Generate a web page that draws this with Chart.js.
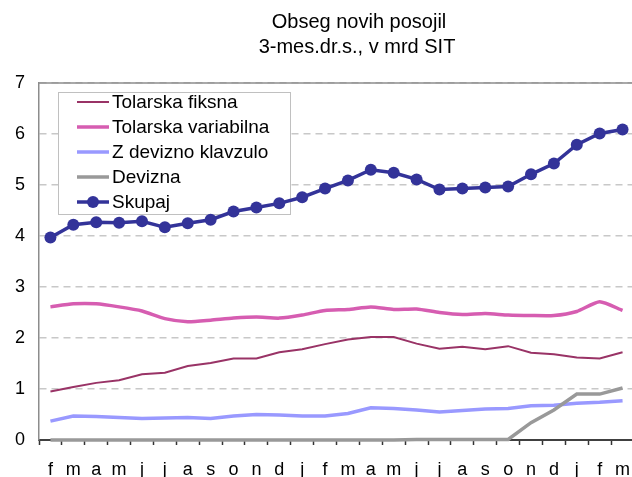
<!DOCTYPE html>
<html>
<head>
<meta charset="utf-8">
<script src="https://cdn.jsdelivr.net/npm/chart.js@4/dist/chart.umd.min.js"></script>
<style>
  body { margin: 0; background: #fff; overflow: hidden; }
  canvas { display: block; }
</style>
</head>
<body>
<canvas id="posojilaChart" width="640" height="477"></canvas>
<script>
// meseci (od februarja do marca naslednje leto +1)
const months = ["f", "m", "a", "m", "j", "j", "a", "s", "o", "n", "d", "j", "f", "m", "a", "m", "j", "j", "a", "s", "o", "n", "d", "j", "f", "m"];

const tolarskaFiksna = [0.95, 1.04, 1.12, 1.17, 1.29, 1.32, 1.45, 1.51, 1.60, 1.60, 1.72, 1.78, 1.88, 1.97, 2.02, 2.02, 1.89, 1.79, 1.83, 1.78, 1.84, 1.71, 1.68, 1.62, 1.60, 1.72];
const tolarskaVariabilna = [2.61, 2.67, 2.67, 2.61, 2.53, 2.38, 2.32, 2.35, 2.39, 2.41, 2.39, 2.45, 2.54, 2.56, 2.61, 2.56, 2.57, 2.50, 2.46, 2.48, 2.45, 2.44, 2.44, 2.52, 2.71, 2.54];
const zDeviznoKlavzulo = [0.37, 0.47, 0.46, 0.44, 0.42, 0.43, 0.44, 0.42, 0.47, 0.50, 0.49, 0.47, 0.47, 0.52, 0.63, 0.62, 0.59, 0.55, 0.58, 0.61, 0.62, 0.67, 0.68, 0.72, 0.74, 0.77];
const devizna = [0, 0, 0, 0, 0, 0, 0, 0, 0, 0, 0, 0, 0, 0, 0, 0, 0.01, 0.01, 0.01, 0.01, 0.01, 0.34, 0.59, 0.90, 0.90, 1.02];
const skupaj = [3.97, 4.22, 4.27, 4.26, 4.29, 4.17, 4.25, 4.32, 4.48, 4.56, 4.64, 4.76, 4.93, 5.09, 5.30, 5.24, 5.11, 4.91, 4.93, 4.95, 4.97, 5.21, 5.42, 5.79, 6.01, 6.09];

const titleLines = ["Obseg novih posojil", "3-mes.dr.s., v mrd SIT"];
const yTicks = [0, 1, 2, 3, 4, 5, 6, 7];

const FONT = "'Liberation Sans', Arial, sans-serif";

// naslov, okvir in legenda znotraj grafa
const decorPlugin = {
    id: "decor",
    beforeDatasetsDraw(chart) {
        const { ctx, chartArea } = chart;
        ctx.save();
        ctx.strokeStyle = "#8c8c8c";
        ctx.lineWidth = 1.5;
        ctx.beginPath();
        ctx.moveTo(chartArea.left, chartArea.top);
        ctx.lineTo(chartArea.right, chartArea.top);
        ctx.stroke();

        // legenda (pod črtami)
        ctx.fillStyle = "#fff";
        ctx.fillRect(58, 92, 232, 122);
        ctx.strokeStyle = "#c0c0c0";
        ctx.lineWidth = 1;
        ctx.strokeRect(58.5, 92.5, 232, 122);
        ctx.font = "19px " + FONT;
        ctx.textAlign = "left";
        ctx.textBaseline = "middle";
        chart.data.datasets.forEach((ds, row) => {
            const y = 102 + row * 25;
            ctx.strokeStyle = ds.borderColor;
            ctx.lineWidth = ds.borderWidth;
            ctx.beginPath();
            ctx.moveTo(77, y);
            ctx.lineTo(109, y);
            ctx.stroke();
            if (ds.pointRadius > 0) {
                ctx.fillStyle = ds.borderColor;
                ctx.beginPath();
                ctx.arc(93, y, ds.pointRadius, 0, Math.PI * 2);
                ctx.fill();
            }
            ctx.fillStyle = "#000";
            ctx.fillText(ds.label, 112, y + 1);
        });
        ctx.restore();
    },
    afterDraw(chart) {
        const { ctx } = chart;
        ctx.save();
        ctx.fillStyle = "#000";
        ctx.font = "20px " + FONT;
        ctx.textAlign = "center";
        ctx.textBaseline = "middle";
        ctx.fillText(titleLines[0], 359, 22);
        ctx.fillText(titleLines[1], 357, 47);
        ctx.restore();
    }
};

const ctx = document.getElementById("posojilaChart").getContext("2d");
new Chart(ctx, {
    type: "line",
    data: {
        labels: months,
        datasets: [
            { label: "Tolarska fiksna", data: tolarskaFiksna, borderColor: "#993366", borderWidth: 2, pointRadius: 0, order: 4 },
            { label: "Tolarska variabilna", data: tolarskaVariabilna, borderColor: "#d65db1", borderWidth: 3.5, pointRadius: 0, tension: 0.2, order: 3 },
            { label: "Z devizno klavzulo", data: zDeviznoKlavzulo, borderColor: "#9999ff", borderWidth: 3.5, pointRadius: 0, order: 2 },
            { label: "Devizna", data: devizna, borderColor: "#999999", borderWidth: 3.5, pointRadius: 0, order: 1 },
            { label: "Skupaj", data: skupaj, borderColor: "#333399", backgroundColor: "#333399", borderWidth: 3.5, pointRadius: 6, pointBackgroundColor: "#333399", pointBorderWidth: 0, order: 0 },
        ],
    },
    options: {
        responsive: false,
        animation: false,
        layout: { padding: { top: 83, left: 0, right: 0, bottom: 0 } },
        plugins: {
            legend: { display: false },
            title: { display: false },
            tooltip: { enabled: false },
        },
        datasets: { line: { clip: false } },
        scales: {
            x: {
                offset: true,
                afterFit(scale) {
                    scale.height = 37;
                    scale.paddingLeft = 0;
                    scale.paddingRight = 0;
                },
                grid: {
                    display: true,
                    offset: true,
                    drawOnChartArea: false,
                    drawTicks: true,
                    tickLength: 5,
                    tickColor: "#333",
                    tickWidth: 1.5,
                },
                border: { display: true, color: "#404040", width: 2 },
                ticks: {
                    color: "#000",
                    font: { family: FONT, size: 18 },
                    padding: 14,
                    maxRotation: 0,
                    autoSkip: false,
                },
            },
            y: {
                min: 0,
                max: 7,
                afterFit(scale) { scale.width = 39; },
                afterBuildTicks(scale) { scale.ticks = yTicks.map(v => ({ value: v })); },
                grid: {
                    color: "#c8c8c8",
                    lineWidth: 1.5,
                    drawTicks: false,
                },
                border: { display: true, color: "#8c8c8c", width: 1.5, dash: [7, 5] },
                ticks: {
                    color: "#000",
                    font: { family: FONT, size: 18 },
                    padding: 14,
                },
            },
        },
    },
    plugins: [decorPlugin],
});
</script>
</body>
</html>
